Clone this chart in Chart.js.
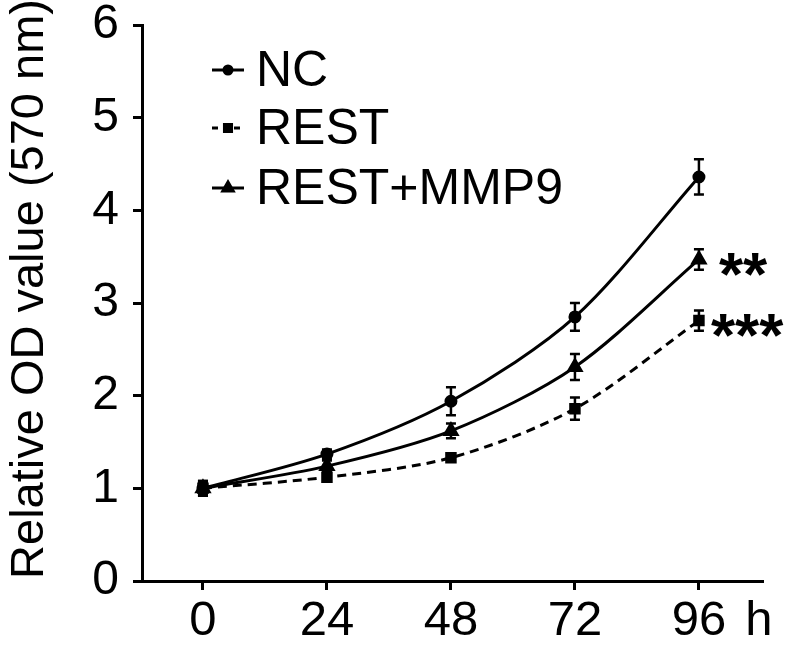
<!DOCTYPE html>
<html>
<head>
<meta charset="utf-8">
<script src="https://cdn.jsdelivr.net/npm/chart.js@4.4.1/dist/chart.umd.min.js"></script>
<style>
  html, body { margin: 0; padding: 0; background: #fff; }
  #wrap { width: 798px; height: 645px; }
</style>
</head>
<body>
<div id="wrap"><canvas id="odChart"></canvas></div>
<script>
// values
const hours = [0, 24, 48, 72, 96];
const yTicks = [0, 1, 2, 3, 4, 5, 6];
const ncMean = [1.00, 1.37, 1.94, 2.85, 4.36];
const ncErr = [0.08, 0.05, 0.15, 0.15, 0.19];
const restMean = [1.00, 1.12, 1.33, 1.86, 2.81];
const restErr = [0.07, 0.05, 0.04, 0.12, 0.11];
const mmp9Mean = [1.00, 1.24, 1.62, 2.31, 3.47];
const mmp9Err = [0.08, 0.06, 0.08, 0.14, 0.11];
const seriesNames = ['NC', 'REST', 'REST+MMP9'];
const sigMarks = ['', '***', '**']; // shown next to the 96 h point
const xUnit = 'h';
const yTitle = 'Relative OD value (570 nm)';

const FONT = "'Liberation Sans', Arial, Helvetica, sans-serif";
const TICK_LEN = 9;
const X_PAD = 2;
const X_FONT = 49;

function toPoints(mean) {
    return hours.map((h, i) => ({ x: h, y: mean[i] }));
}

const errorBars = {
    id: 'errorBars',
    afterDatasetsDraw(chart) {
        const c = chart.ctx;
        const xs = chart.scales.x, ys = chart.scales.y;
        c.save();
        c.strokeStyle = '#000';
        c.lineWidth = 2.5;
        chart.data.datasets.forEach(ds => {
            ds.data.forEach((p, i) => {
                const px = xs.getPixelForValue(p.x);
                const top = ys.getPixelForValue(p.y + ds.err[i]);
                const bot = ys.getPixelForValue(p.y - ds.err[i]);
                c.beginPath();
                c.moveTo(px, top); c.lineTo(px, bot);
                c.moveTo(px - 5, top); c.lineTo(px + 5, top);
                c.moveTo(px - 5, bot); c.lineTo(px + 5, bot);
                c.stroke();
            });
        });
        c.restore();
    }
};

const extras = {
    id: 'extras',
    afterDraw(chart) {
        const c = chart.ctx;
        const xs = chart.scales.x, ys = chart.scales.y;
        c.save();
        c.fillStyle = '#000';

        // y axis title, drawn by hand so it can sit where the original does
        c.save();
        c.translate(30, 289);
        c.rotate(-Math.PI / 2);
        c.font = '47px ' + FONT;
        c.textAlign = 'center';
        c.textBaseline = 'middle';
        c.fillText(yTitle, 0, 0);
        c.restore();

        // unit label at the end of the x axis
        c.font = X_FONT + 'px ' + FONT;
        c.textAlign = 'center';
        c.textBaseline = 'middle';
        c.fillText(xUnit, xs.right - 4, xs.top + TICK_LEN + X_PAD + X_FONT * 0.6);

        // significance stars next to last point
        c.font = 'bold 62px ' + FONT;
        c.textAlign = 'left';
        c.textBaseline = 'alphabetic';
        chart.data.datasets.forEach((ds, k) => {
            if (!sigMarks[k]) return;
            const last = ds.data[ds.data.length - 1];
            const px = xs.getPixelForValue(last.x);
            const py = ys.getPixelForValue(last.y);
            const off = sigMarks[k].length > 2 ? 12 : 20;
            c.fillText(sigMarks[k], px + off, py + 62 * 0.57);
        });

        // legend, top left inside the plot
        const rows = [70, 128, 188];
        c.font = '50px ' + FONT;
        c.textBaseline = 'middle';
        chart.data.datasets.forEach((ds, k) => {
            const y = rows[k];
            c.strokeStyle = '#000';
            c.lineWidth = 3;
            c.setLineDash(ds.borderDash ? [6, 5] : []);
            c.beginPath();
            c.moveTo(212, y); c.lineTo(244, y);
            c.stroke();
            c.setLineDash([]);
            Chart.helpers.drawPoint(c, {
                pointStyle: ds.pointStyle,
                radius: ds.pointRadius - 1,
                rotation: 0,
                borderWidth: 1
            }, 228, y);
            c.fillText(ds.label, 256, y + 2);
        });
        c.restore();
    }
};

const lineBase = {
    borderColor: '#000',
    backgroundColor: '#000',
    pointBackgroundColor: '#000',
    pointBorderColor: '#000',
    borderWidth: 3,
    tension: 0.3,
    fill: false
};

new Chart(document.getElementById('odChart').getContext('2d'), {
    type: 'line',
    data: {
        datasets: [
            Object.assign({}, lineBase, {
                label: seriesNames[0], data: toPoints(ncMean), err: ncErr,
                pointStyle: 'circle', pointRadius: 5
            }),
            Object.assign({}, lineBase, {
                label: seriesNames[1], data: toPoints(restMean), err: restErr,
                pointStyle: 'rect', pointRadius: 6, borderDash: [9, 6]
            }),
            Object.assign({}, lineBase, {
                label: seriesNames[2], data: toPoints(mmp9Mean), err: mmp9Err,
                pointStyle: 'triangle', pointRadius: 7
            })
        ]
    },
    options: {
        responsive: true,
        maintainAspectRatio: false,
        animation: false,
        layout: { padding: { top: 25, right: 35, left: 0, bottom: 0 } },
        plugins: { legend: { display: false }, tooltip: { enabled: false } },
        scales: {
            x: {
                type: 'linear',
                min: -11.8,
                max: 108.4,
                afterBuildTicks: s => { s.ticks = hours.map(v => ({ value: v })); },
                afterFit: s => { s.height = 645 - 581; s.paddingRight = 0; s.paddingLeft = 0; },
                ticks: { color: '#000', font: { size: X_FONT, family: FONT }, padding: X_PAD, autoSkip: false, maxRotation: 0 },
                grid: { drawOnChartArea: false, drawTicks: true, tickLength: TICK_LEN, tickWidth: 3, tickColor: '#000' },
                border: { display: true, color: '#000', width: 3 }
            },
            y: {
                min: 0,
                max: 6,
                afterBuildTicks: s => { s.ticks = yTicks.map(v => ({ value: v })); },
                afterFit: s => { s.width = 142; s.paddingTop = 0; s.paddingBottom = 0; },
                ticks: { color: '#000', font: { size: 48, family: FONT }, padding: 14 },
                grid: { drawOnChartArea: false, drawTicks: true, tickLength: TICK_LEN, tickWidth: 3, tickColor: '#000' },
                border: { display: true, color: '#000', width: 3 }
            }
        }
    },
    plugins: [errorBars, extras]
});
</script>
</body>
</html>
